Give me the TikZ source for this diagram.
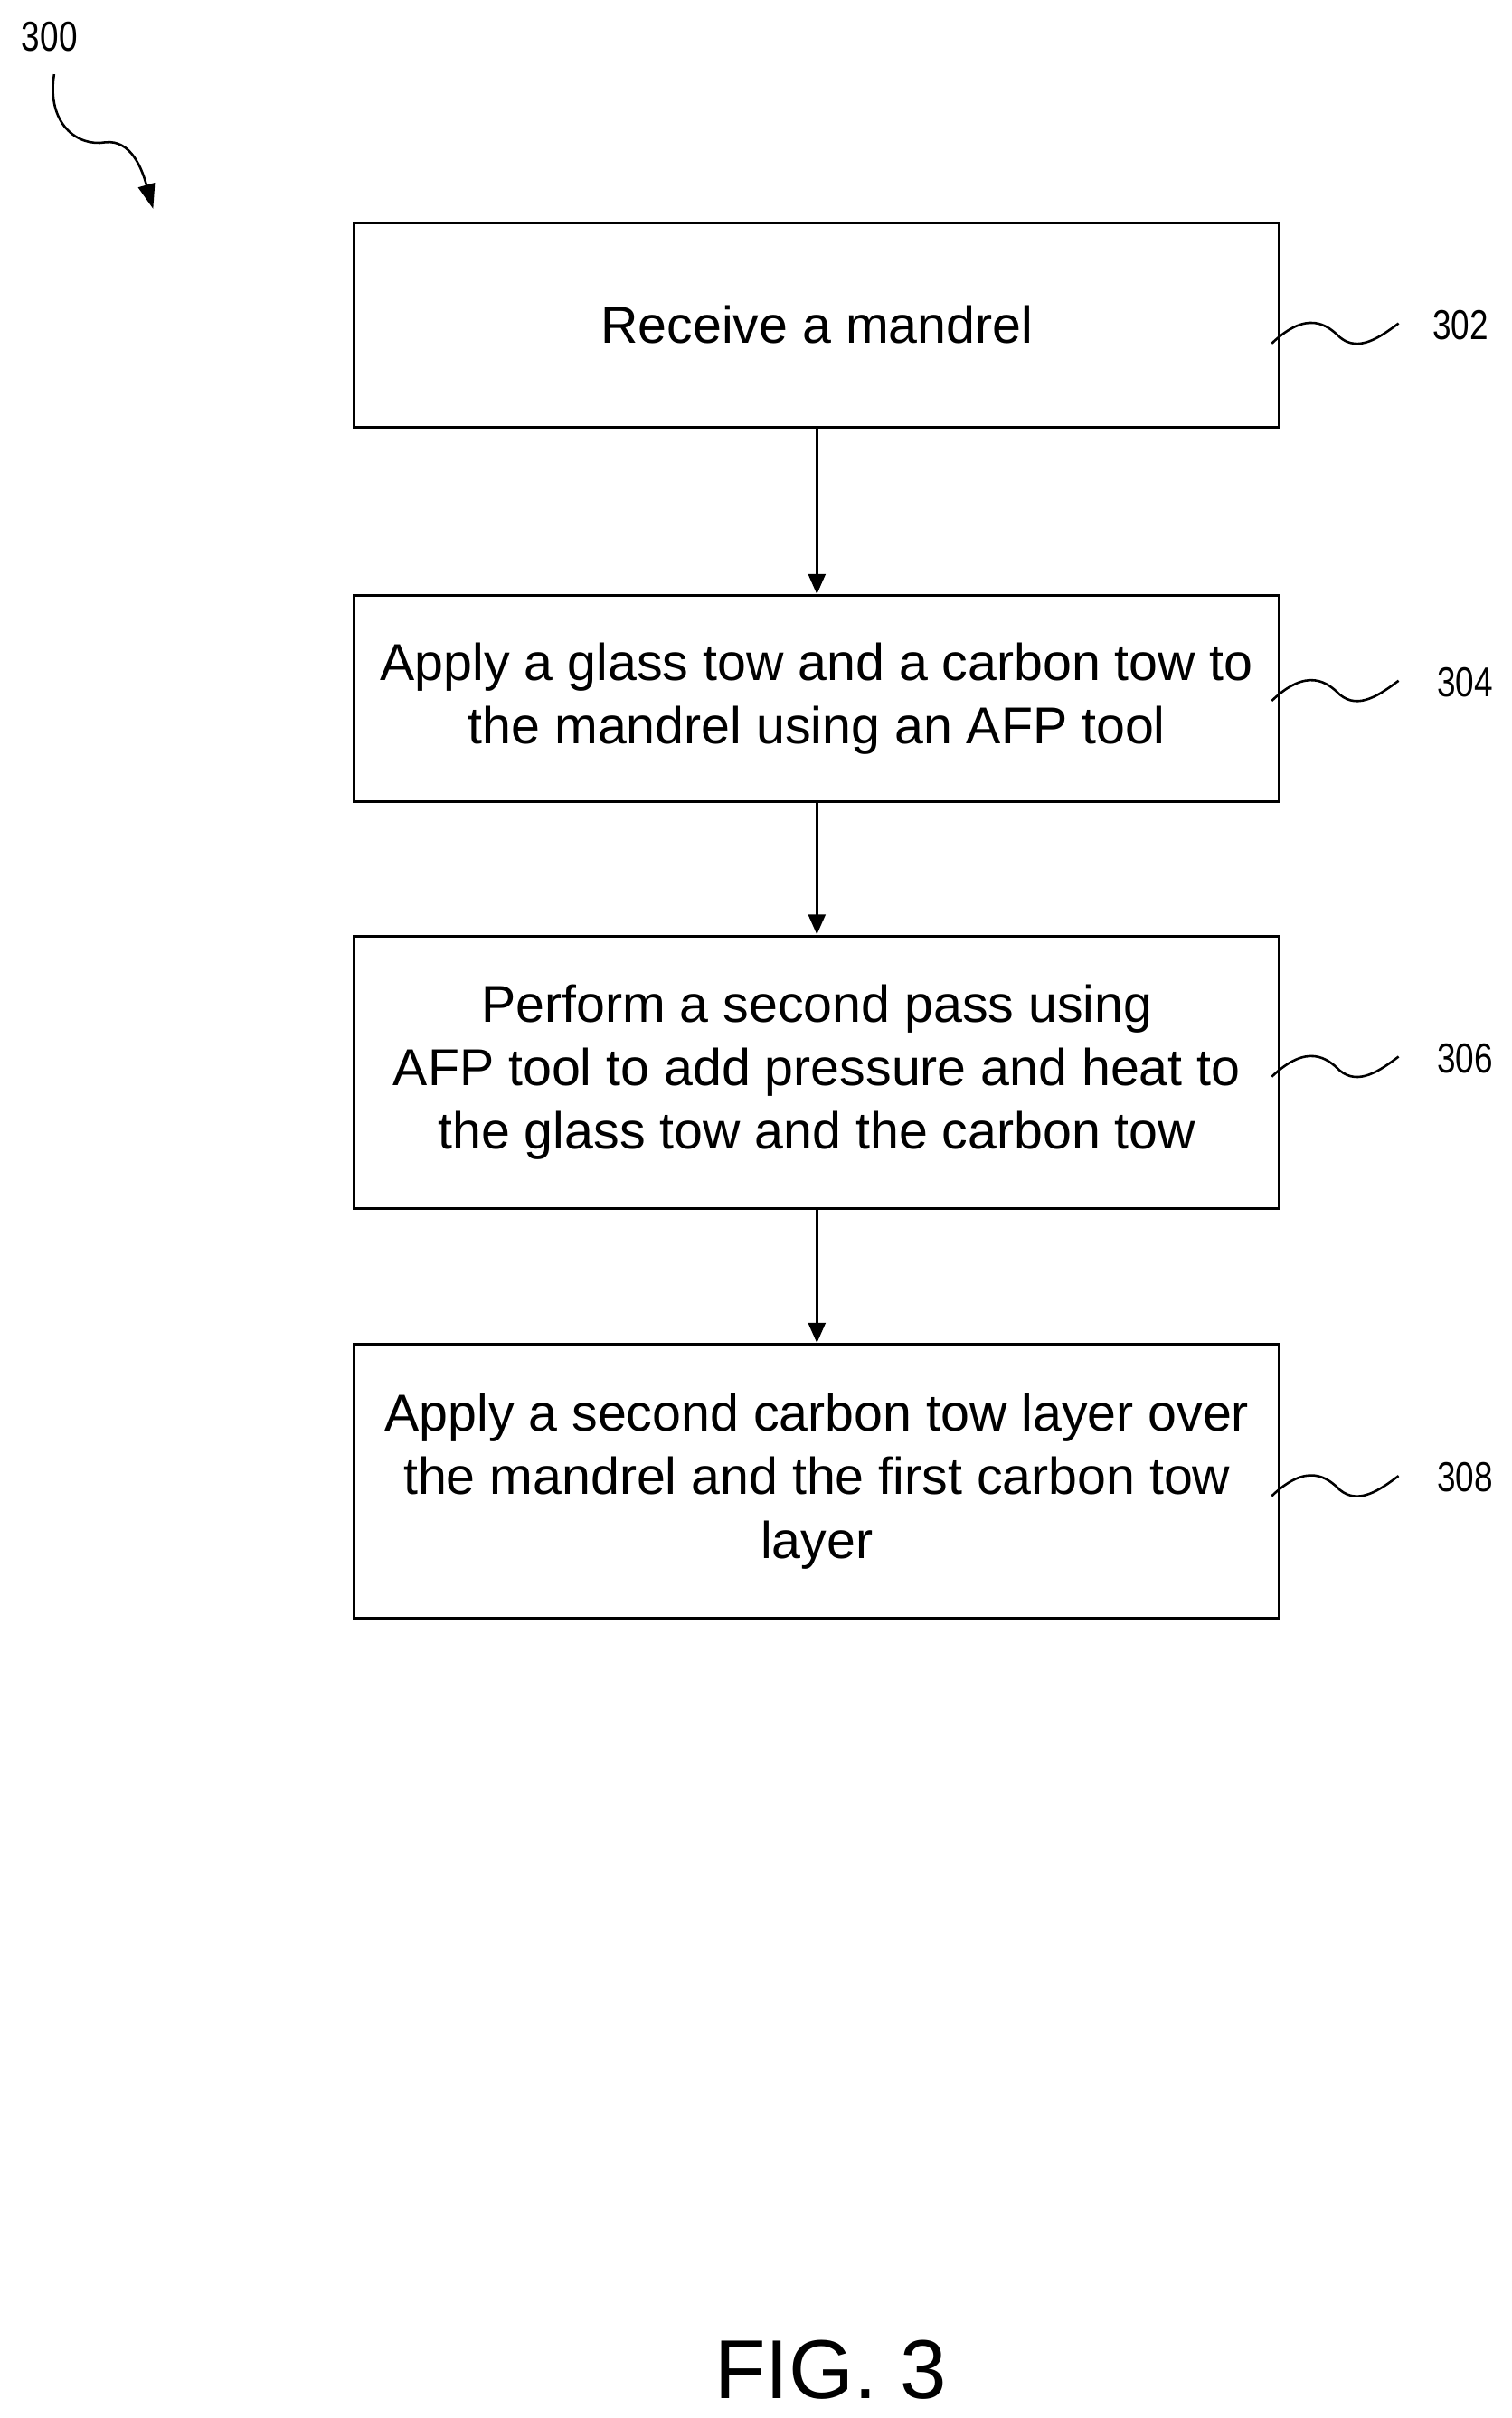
\documentclass[tikz,border=0pt]{standalone}
\usepackage{fontspec}
\setmainfont{Liberation Sans}
\usetikzlibrary{arrows.meta}
\begin{document}
\begin{tikzpicture}[x=1pt,y=-1pt,
  box/.style={draw,line width=1.8pt,minimum width=598pt,align=center,font=\fontsize{33.5}{41}\selectfont,inner sep=0pt},
  arr/.style={line width=1.8pt,-{Triangle[length=13pt,width=11pt]}},
  sq/.style={line width=1.5pt},
  ref/.style={font=\fontsize{27}{30}\selectfont,inner sep=0pt}]
\useasboundingbox (0,0) rectangle (977,1563);
\node[box,minimum height=132pt] (b1) at (528,210) {Receive a mandrel};
\node[box,minimum height=133pt] (b2) at (528,451.5) {Apply a glass tow and a carbon tow to\\the mandrel using an AFP tool};
\node[box,minimum height=176pt] (b3) at (528,693) {Perform a second pass using\\AFP tool to add pressure and heat to\\the glass tow and the carbon tow};
\node[box,minimum height=177pt] (b4) at (528,957.5) {Apply a second carbon tow layer over\\the mandrel and the first carbon tow\\layer};
\draw[arr] (b1) -- (b2);
\draw[arr] (b2) -- (b3);
\draw[arr] (b3) -- (b4);
\node[ref] (r302) at (944,210) {\scalebox{0.8}[1]{302}};
\node[ref] (r304) at (947,441) {\scalebox{0.8}[1]{304}};
\node[ref] (r306) at (947,684) {\scalebox{0.8}[1]{306}};
\node[ref] (r308) at (947,955) {\scalebox{0.8}[1]{308}};
\foreach \b/\r/\y in {b1/r302/222, b2/r304/453, b3/r306/696, b4/r308/967}{
  \coordinate (s\b) at (822,\y);
  \coordinate (e\b) at (904,\y-13);
  \draw[sq] (s\b) .. controls (845,\y-22) and (858,\y-12) .. (866,\y-4) .. controls (878,\y+6) and (892,\y-4) .. (e\b);
}
\node[ref] (r300) at (32,24) {\scalebox{0.8}[1]{300}};
\coordinate (a300) at (99,135);
\draw[line width=1.5pt,-{Triangle[length=16pt,width=11pt]}] (35,48) .. controls (30,80) and (50,95) .. (68,92) .. controls (85,90) and (92,110) .. (a300);
\node[font=\fontsize{54}{60}\selectfont] (fig) at (537,1532) {FIG. 3};
\end{tikzpicture}
\end{document}
